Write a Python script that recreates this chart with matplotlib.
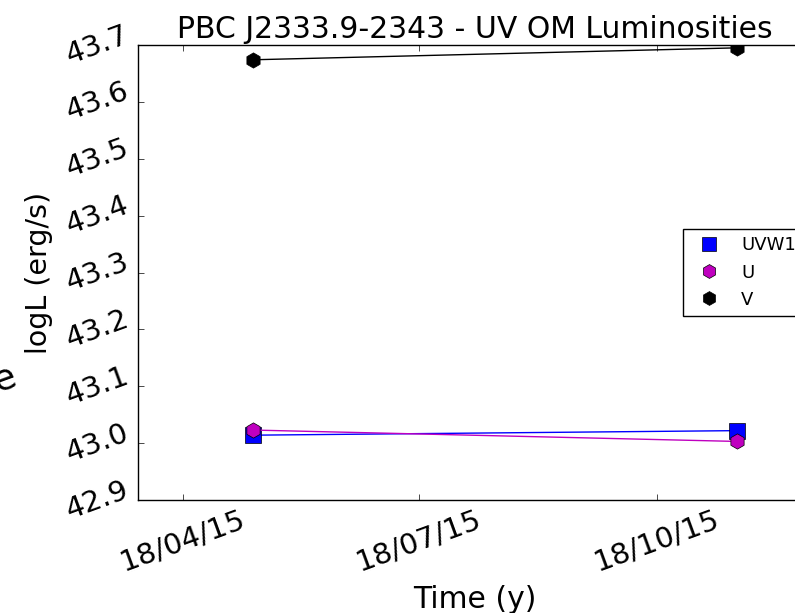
import matplotlib
matplotlib.use("Agg")
import matplotlib.pyplot as plt
import matplotlib.dates as mdates
from matplotlib.lines import Line2D
import datetime as dt

plt.style.use('classic')
plt.rcParams['font.family'] = ['DejaVu Sans']

dates = [dt.datetime(2015, 5, 15), dt.datetime(2015, 11, 18)]
uvw1 = [43.014, 43.022]
uvw1_err = [0.008, 0.008]
u = [43.023, 43.003]
u_err = [0.008, 0.006]
v = [43.674, 43.695]
v_err = [0.004, 0.003]

title = "PBC J2333.9-2343 - UV OM Luminosities"
xlabel = "Time (y)"
ylabel = "logL (erg/s)"

fig = plt.figure(figsize=(7.95, 6.13), dpi=100, facecolor='white')
ax = fig.add_axes([0.1736, 0.1843, 0.848, 0.7423])

series = [
    ('UVW1', uvw1, uvw1_err, 's', 'b'),
    ('U', u, u_err, 'h', 'm'),
    ('V', v, v_err, 'h', 'k'),
]
handles = []
for name, vals, errs, mk, col in series:
    ax.errorbar(dates, vals, yerr=errs, fmt=mk + '-', color=col, ecolor=col,
                markersize=11, markeredgecolor='k', linewidth=1, capsize=3)
    handles.append(Line2D([], [], linestyle='none', marker=mk, color=col,
                          markeredgecolor='k', markersize=10, label=name))

ax.set_xlim(dt.datetime(2015, 3, 31, 14), dt.datetime(2015, 12, 17))
ax.set_ylim(42.9, 43.7)
ax.xaxis.set_major_locator(mdates.MonthLocator(bymonth=[1, 4, 7, 10], bymonthday=18))
ax.xaxis.set_major_formatter(mdates.DateFormatter('%d/%m/%y'))
ax.yaxis.set_major_locator(plt.MultipleLocator(0.1))
ax.yaxis.set_major_formatter(plt.FormatStrFormatter('%.1f'))
ax.xaxis.set_minor_locator(plt.NullLocator())
ax.yaxis.set_minor_locator(plt.NullLocator())

for lbl in ax.get_xticklabels():
    lbl.set_rotation(20)
    lbl.set_fontsize(21)
for lbl in ax.get_yticklabels():
    lbl.set_rotation(20)
    lbl.set_fontsize(21)

ax.set_title(title, fontsize=21.5)
ax.set_xlabel(xlabel, fontsize=21.5, labelpad=6)
ax.set_ylabel(ylabel, fontsize=20.5, labelpad=6)

leg = ax.legend(handles=handles, loc='center right', numpoints=1, fontsize=13,
                frameon=True)

fig.text(5 / 795, 1 - 378 / 613, 'e', fontsize=26, rotation=20,
         ha='center', va='center')

fig.savefig('out.png', dpi=100, facecolor='white')
